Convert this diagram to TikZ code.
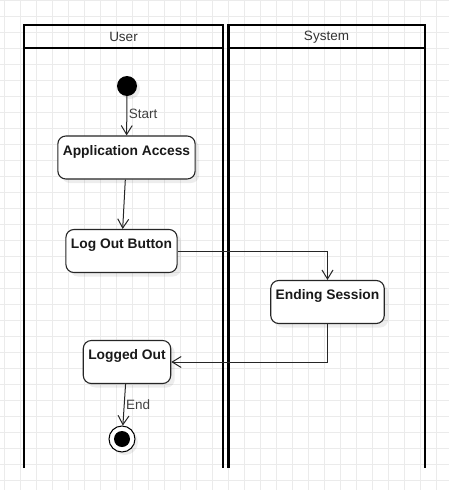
\documentclass[tikz,border=0pt]{standalone}
\usepackage{fontspec}
\setmainfont{Liberation Sans}
\usetikzlibrary{arrows.meta,shadows}

\newcommand*{\lanetop}{25}
\newcommand*{\lanehead}{48}
\newcommand*{\lanebot}{468}

\begin{document}
\begin{tikzpicture}
[
	x=1pt, y=-1pt,
	gridline/.style={draw=black!8, line width=0.8pt},
	lane/.style={draw=black, line width=2.4pt, line join=miter},
	lanelabel/.style={font=\fontsize{13.5}{16}\selectfont, text=black!80, inner sep=0pt},
	action/.style={draw=black!85, line width=1.1pt, rounded corners=8pt, fill=white,
		font=\fontsize{13.8}{16}\selectfont\bfseries, text=black!90,
		inner xsep=5pt, inner ysep=0pt, text height=19pt, text depth=24pt,
		drop shadow={shadow xshift=4pt, shadow yshift=-4pt, opacity=0.07, fill=black}},
	initial/.style={circle, fill=black, minimum size=20pt, inner sep=0pt,
		drop shadow={shadow xshift=3pt, shadow yshift=-3pt, opacity=0.07, fill=black}},
	final/.style={circle, draw=black, line width=1pt, fill=white, minimum size=26pt, inner sep=0pt,
		drop shadow={shadow xshift=3pt, shadow yshift=-3pt, opacity=0.07, fill=black},
		path picture={\fill[black] (path picture bounding box.center) circle (8pt);}},
	flow/.style={draw=black!85, line width=1pt, -{Straight Barb[length=9pt,width=11pt]}},
	edgelabel/.style={font=\fontsize{13.5}{16}\selectfont, text=black!75, inner xsep=1.5pt}
]

	\useasboundingbox[fill=white] (0,0) rectangle (449,490);

	% grid
	\foreach \gx in {4.5,20.5,...,449}
		\draw[gridline] (\gx,0) -- (\gx,490);
	\foreach \gy in {0.5,16.5,...,490}
		\draw[gridline] (0,\gy) -- (449,\gy);

	% swimlanes
	\draw[lane] (24,\lanebot) -- (24,\lanetop) -- (223,\lanetop) -- (223,\lanebot);
	\draw[lane] (24,\lanehead) -- (223,\lanehead);
	\node[lanelabel] (userlane) at (123.5,37) {User};

	\draw[lane] (228.5,\lanebot) -- (228.5,\lanetop) -- (425,\lanetop) -- (425,\lanebot);
	\draw[lane] (228.5,\lanehead) -- (425,\lanehead);
	\node[lanelabel] (systemlane) at (326.5,37) {System};

	% activities
	\node[initial] (init) at (127,86) {};
	\node[action] (access) at (126.5,157.5) {Application Access};
	\node[action] (logout) at (121.5,251) {Log Out Button};
	\node[action] (ending) at (327.5,302) {Ending Session};
	\node[action] (loggedout) at (127,362) {Logged Out};
	\node[final] (end) at (122,439) {};

	% flows
	\draw[flow] (init) -- node[edgelabel, right, pos=0.45] {Start} (access);
	\draw[flow] (access) -- (logout);
	\draw[flow] (logout.east) -| (ending.north);
	\draw[flow] (ending.south) |- (loggedout.east);
	\draw[flow] (loggedout) -- node[edgelabel, right] {End} (end);

\end{tikzpicture}
\end{document}
